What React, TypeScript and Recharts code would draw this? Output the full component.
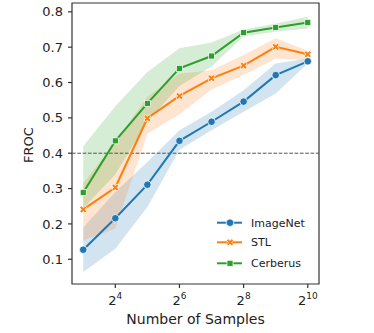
import { ComposedChart, Line, Area, XAxis, YAxis, ReferenceLine, ReferenceArea } from 'recharts';

// log2 of number of samples
const exponents = [3, 4, 5, 6, 7, 8, 9, 10];

const imagenetMean = [0.127, 0.216, 0.311, 0.435, 0.489, 0.546, 0.621, 0.660];
const imagenetLow = [0.064, 0.13, 0.248, 0.41, 0.465, 0.517, 0.569, 0.654];
const imagenetHigh = [0.19, 0.29, 0.375, 0.465, 0.517, 0.578, 0.654, 0.668];

const stlMean = [0.241, 0.303, 0.499, 0.562, 0.612, 0.648, 0.701, 0.680];
const stlLow = [0.153, 0.187, 0.455, 0.51, 0.58, 0.621, 0.668, 0.663];
const stlHigh = [0.315, 0.43, 0.56, 0.625, 0.635, 0.678, 0.725, 0.69];

const cerberusMean = [0.289, 0.435, 0.541, 0.640, 0.675, 0.741, 0.756, 0.770];
const cerberusLow = [0.244, 0.34, 0.49, 0.59, 0.645, 0.731, 0.744, 0.753];
const cerberusHigh = [0.42, 0.533, 0.63, 0.697, 0.713, 0.75, 0.767, 0.786];

const xTicks = [4, 6, 8, 10];
const yTicks = [0.1, 0.2, 0.3, 0.4, 0.5, 0.6, 0.7, 0.8];
const threshold = 0.4;

const BLUE = '#1f77b4';
const ORANGE = '#ff7f0e';
const GREEN = '#2ca02c';
const FONT = '"DejaVu Sans", sans-serif';

const data = exponents.map((e, i) => ({
  x: e,
  imagenet: imagenetMean[i],
  imagenetBand: [imagenetLow[i], imagenetHigh[i]],
  stl: stlMean[i],
  stlBand: [stlLow[i], stlHigh[i]],
  cerberus: cerberusMean[i],
  cerberusBand: [cerberusLow[i], cerberusHigh[i]],
}));

function Circle({ cx, cy }: any) {
  if (cx == null || cy == null) return null;
  return <circle cx={cx} cy={cy} r={3.8} fill={BLUE} stroke="#fff" strokeWidth={0.8} />;
}

function Cross({ cx, cy }: any) {
  if (cx == null || cy == null) return null;
  const L = 3.8, a = 1.25;
  const pts = [
    [-a, -L], [a, -L], [a, -a], [L, -a], [L, a], [a, a],
    [a, L], [-a, L], [-a, a], [-L, a], [-L, -a], [-a, -a],
  ].map(p => p.join(',')).join(' ');
  return (
    <polygon
      points={pts}
      transform={`translate(${cx},${cy}) rotate(45)`}
      fill={ORANGE}
      stroke="#fff"
      strokeWidth={0.7}
    />
  );
}

function Square({ cx, cy }: any) {
  if (cx == null || cy == null) return null;
  const s = 6;
  return <rect x={cx - s / 2} y={cy - s / 2} width={s} height={s} fill={GREEN} stroke="#fff" strokeWidth={0.7} />;
}

function XTick({ x, y, payload }: any) {
  return (
    <text x={x} y={y} textAnchor="middle" fontSize={13} fill="#222" fontFamily={FONT}>
      <tspan dy={15}>2</tspan>
      <tspan dy={-6} fontSize={9}>{payload.value}</tspan>
    </text>
  );
}

function LegendBox() {
  const rows = [
    { name: 'ImageNet', color: BLUE, Marker: Circle, cy: 12.7 },
    { name: 'STL', color: ORANGE, Marker: Cross, cy: 32.3 },
    { name: 'Cerberus', color: GREEN, Marker: Square, cy: 53.3 },
  ];
  return (
    <svg width={120} height={66} style={{ position: 'absolute', left: 210, top: 210 }}>
      {rows.map(r => (
        <g key={r.name}>
          <line x1={7} x2={32} y1={r.cy} y2={r.cy} stroke={r.color} strokeWidth={2} />
          <r.Marker cx={20} cy={r.cy} />
          <text x={41} y={r.cy + 4} fontSize={11} fill="#222" fontFamily={FONT}>{r.name}</text>
        </g>
      ))}
    </svg>
  );
}

export default function App() {
  return (
    <div style={{ position: 'absolute', left: 0, top: 0, width: 374, height: 333, background: '#fff' }}>
      <ComposedChart
        width={374}
        height={333}
        data={data}
        margin={{ top: 3, right: 55, bottom: 0, left: 0 }}
        style={{ fontFamily: FONT }}
      >
        <XAxis
          dataKey="x"
          type="number"
          domain={[2.65, 10.35]}
          ticks={xTicks}
          height={49}
          axisLine={false}
          tickLine={{ stroke: '#333', strokeWidth: 1.2 }}
          tickSize={4}
          tick={<XTick />}
          label={{
            content: ({ viewBox }: any) => (
              <text
                x={viewBox.x + viewBox.width / 2}
                y={viewBox.y + 40}
                textAnchor="middle"
                fontSize={14}
                fill="#222"
                fontFamily={FONT}
              >
                Number of Samples
              </text>
            ),
          }}
        />
        <YAxis
          type="number"
          domain={[0.03, 0.825]}
          ticks={yTicks}
          width={72}
          axisLine={false}
          tickLine={{ stroke: '#333', strokeWidth: 1.2 }}
          tickSize={4}
          tickMargin={5}
          tick={{ fill: '#222', fontSize: 13 }}
          allowDataOverflow
          label={{
            content: ({ viewBox }: any) => (
              <text
                x={33}
                y={viewBox.y + viewBox.height / 2 + 1.5}
                transform={`rotate(-90, 33, ${viewBox.y + viewBox.height / 2 + 1.5})`}
                textAnchor="middle"
                fontSize={13}
                fill="#222"
                fontFamily={FONT}
              >
                FROC
              </text>
            ),
          }}
        />
        <ReferenceLine y={threshold} stroke="#555" strokeWidth={1} strokeDasharray="3.7 1.6" />

        <Area dataKey="imagenetBand" stroke="none" fill={BLUE} fillOpacity={0.2} isAnimationActive={false} />
        <Line
          dataKey="imagenet"
          stroke={BLUE}
          strokeWidth={2}
          dot={(p: any) => <Circle key={`c${p.index}`} {...p} />}
          activeDot={false}
          isAnimationActive={false}
        />
        <Area dataKey="stlBand" stroke="none" fill={ORANGE} fillOpacity={0.2} isAnimationActive={false} />
        <Line
          dataKey="stl"
          stroke={ORANGE}
          strokeWidth={2}
          dot={(p: any) => <Cross key={`x${p.index}`} {...p} />}
          activeDot={false}
          isAnimationActive={false}
        />
        <Area dataKey="cerberusBand" stroke="none" fill={GREEN} fillOpacity={0.2} isAnimationActive={false} />
        <Line
          dataKey="cerberus"
          stroke={GREEN}
          strokeWidth={2}
          dot={(p: any) => <Square key={`s${p.index}`} {...p} />}
          activeDot={false}
          isAnimationActive={false}
        />

        <ReferenceArea
          x1={2.65}
          x2={10.35}
          y1={0.03}
          y2={0.825}
          fill="none"
          fillOpacity={0}
          stroke="#333"
          strokeWidth={1.2}
          ifOverflow="visible"
        />
      </ComposedChart>
      <LegendBox />
    </div>
  );
}
